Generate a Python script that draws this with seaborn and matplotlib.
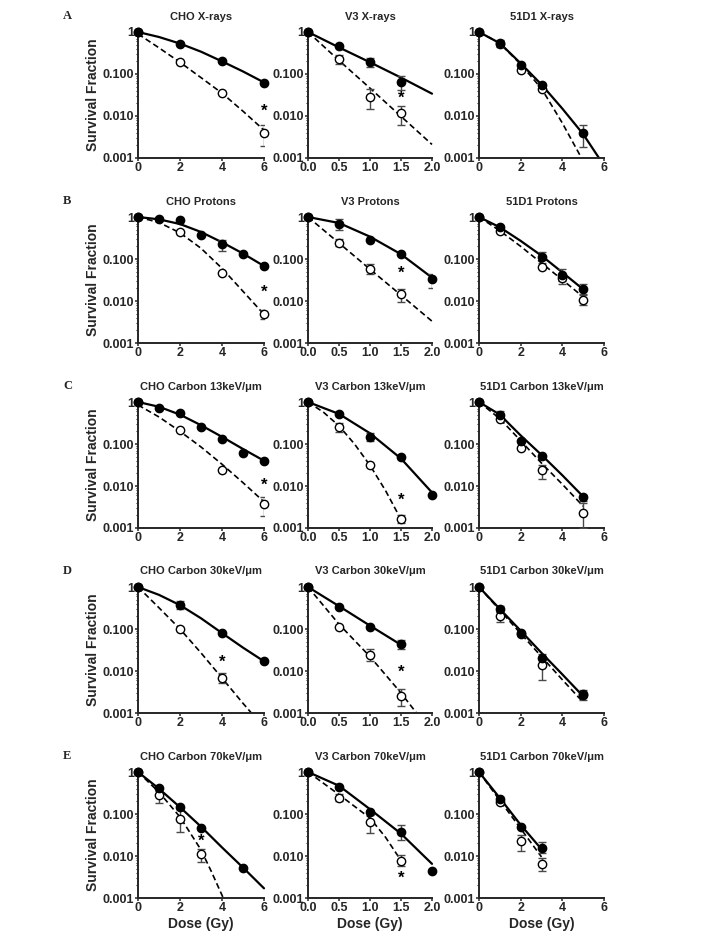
import numpy as np
import pandas as pd
import matplotlib
matplotlib.use('Agg')
import matplotlib.pyplot as plt
import seaborn as sns
from matplotlib.ticker import FixedLocator, NullFormatter, LogLocator

# ---------------- data ----------------
# A: X-rays
a1_fill_x = [0, 2, 4, 6]
a1_fill_y = [1, 0.53, 0.20, 0.062]
a1_fill_lo = [None, None, None, None]
a1_fill_hi = [None, None, None, None]
a1_open_x = [0, 2, 4, 6]
a1_open_y = [1, 0.196, 0.036, 0.0040]
a1_open_lo = [None, None, None, 0.0019]
a1_open_hi = [None, None, None, 0.0061]
a1_fit_x = [0, 1, 2, 3, 4, 5, 6]
a1_fit_y = [1, 0.76, 0.53, 0.34, 0.20, 0.115, 0.063]
a1_dash_x = [0, 1, 2, 3, 4, 5, 6]
a1_dash_y = [0.9, 0.42, 0.19, 0.082, 0.035, 0.013, 0.0046]
a1_star = (6, 0.013)

a2_fill_x = [0, 0.5, 1.0, 1.5]
a2_fill_y = [1, 0.47, 0.19, 0.066]
a2_fill_lo = [None, None, 0.15, 0.042]
a2_fill_hi = [None, None, 0.24, 0.09]
a2_open_x = [0, 0.5, 1.0, 1.5]
a2_open_y = [1, 0.23, 0.029, 0.0118]
a2_open_lo = [None, 0.17, 0.015, 0.0060]
a2_open_hi = [None, 0.29, 0.043, 0.017]
a2_fit_x = [0, 0.5, 1.0, 1.5, 2.0]
a2_fit_y = [1, 0.43, 0.19, 0.082, 0.034]
a2_dash_x = [0, 0.5, 1.0, 1.5, 2.0]
a2_dash_y = [1, 0.21, 0.046, 0.0098, 0.0021]
a2_star = (1.5, 0.027)

a3_fill_x = [0, 1, 2, 3, 5]
a3_fill_y = [1, 0.54, 0.165, 0.054, 0.0040]
a3_fill_lo = [None, 0.45, None, None, 0.0018]
a3_fill_hi = [None, 0.64, None, None, 0.0060]
a3_open_x = [0, 1, 2, 3]
a3_open_y = [1, 0.52, 0.125, 0.044]
a3_open_lo = [None, None, None, None]
a3_open_hi = [None, None, None, None]
a3_fit_x = [0, 1, 2, 3, 4, 5, 5.76]
a3_fit_y = [1, 0.54, 0.18, 0.056, 0.015, 0.0037, 0.001]
a3_dash_x = [0, 1, 2, 3, 4, 4.92]
a3_dash_y = [1, 0.54, 0.17, 0.045, 0.0068, 0.001]
a3_star = None

# B: Protons
b1_fill_x = [0, 1, 2, 3, 4, 5, 6]
b1_fill_y = [1, 0.91, 0.83, 0.37, 0.225, 0.132, 0.068]
b1_fill_lo = [None, None, None, None, 0.155, None, None]
b1_fill_hi = [None, None, None, None, 0.29, None, None]
b1_open_x = [0, 2, 4, 6]
b1_open_y = [1, 0.44, 0.047, 0.0050]
b1_open_lo = [None, None, None, 0.0038]
b1_open_hi = [None, None, None, 0.0062]
b1_fit_x = [0, 1, 2, 3, 4, 5, 6]
b1_fit_y = [1, 0.88, 0.68, 0.44, 0.25, 0.135, 0.068]
b1_dash_x = [0, 1, 2, 3, 4, 5, 6]
b1_dash_y = [1, 0.74, 0.42, 0.18, 0.06, 0.017, 0.0048]
b1_star = (6, 0.016)

b2_fill_x = [0, 0.5, 1.0, 1.5, 2.0]
b2_fill_y = [1, 0.69, 0.29, 0.13, 0.033]
b2_fill_lo = [None, 0.5, None, None, 0.02]
b2_fill_hi = [None, 0.9, None, None, 0.045]
b2_open_x = [0, 0.5, 1.0, 1.5]
b2_open_y = [1, 0.24, 0.059, 0.0145]
b2_open_lo = [None, 0.2, 0.045, 0.0095]
b2_open_hi = [None, 0.3, 0.077, 0.019]
b2_fit_x = [0, 0.5, 1.0, 1.5, 2.0]
b2_fit_y = [1, 0.72, 0.34, 0.13, 0.036]
b2_dash_x = [0, 0.5, 1.0, 1.5, 2.0]
b2_dash_y = [1, 0.24, 0.057, 0.0138, 0.0033]
b2_star = (1.5, 0.045)

b3_fill_x = [0, 1, 3, 4, 5]
b3_fill_y = [1, 0.58, 0.11, 0.042, 0.0196]
b3_fill_lo = [None, None, 0.08, 0.03, 0.015]
b3_fill_hi = [None, None, 0.15, 0.057, 0.026]
b3_open_x = [0, 1, 3, 4, 5]
b3_open_y = [1, 0.46, 0.064, 0.035, 0.0108]
b3_open_lo = [None, None, None, 0.026, 0.0082]
b3_open_hi = [None, None, None, 0.045, 0.0137]
b3_fit_x = [0, 1, 2, 3, 4, 5]
b3_fit_y = [1, 0.57, 0.27, 0.12, 0.048, 0.019]
b3_dash_x = [0, 1, 2, 3, 4, 5]
b3_dash_y = [1, 0.47, 0.2, 0.08, 0.032, 0.0125]
b3_star = None

# C: Carbon 13 keV/um
c1_fill_x = [0, 1, 2, 3, 4, 5, 6]
c1_fill_y = [1, 0.71, 0.56, 0.254, 0.129, 0.06, 0.04]
c1_fill_lo = [None] * 7
c1_fill_hi = [None] * 7
c1_open_x = [0, 2, 4, 6]
c1_open_y = [1, 0.22, 0.0235, 0.0037]
c1_open_lo = [None, None, None, 0.0019]
c1_open_hi = [None, None, None, 0.0054]
c1_fit_x = [0, 1, 2, 3, 4, 5, 6]
c1_fit_y = [1, 0.77, 0.5, 0.28, 0.148, 0.076, 0.04]
c1_dash_x = [0, 1, 2, 3, 4, 5, 6]
c1_dash_y = [0.85, 0.44, 0.2, 0.085, 0.033, 0.012, 0.0042]
c1_star = (6, 0.0102)

c2_fill_x = [0, 0.5, 1.0, 1.5, 2.0]
c2_fill_y = [1, 0.52, 0.15, 0.049, 0.006]
c2_fill_lo = [None, None, 0.115, None, None]
c2_fill_hi = [None, None, 0.18, None, None]
c2_open_x = [0, 0.5, 1.0, 1.5]
c2_open_y = [1, 0.254, 0.031, 0.0016]
c2_open_lo = [None, 0.19, None, 0.0013]
c2_open_hi = [None, 0.32, None, 0.002]
c2_fit_x = [0, 0.5, 1.0, 1.5, 2.0]
c2_fit_y = [1, 0.52, 0.18, 0.045, 0.007]
c2_dash_x = [0, 0.25, 0.5, 0.75, 1.0, 1.25, 1.5]
c2_dash_y = [1, 0.57, 0.27, 0.10, 0.031, 0.0078, 0.0016]
c2_star = (1.5, 0.0045)

c3_fill_x = [0, 1, 2, 3, 5]
c3_fill_y = [1, 0.5, 0.12, 0.051, 0.0054]
c3_fill_lo = [None, 0.42, None, None, 0.0045]
c3_fill_hi = [None, 0.6, None, None, 0.006]
c3_open_x = [0, 1, 2, 3, 5]
c3_open_y = [1, 0.4, 0.08, 0.0236, 0.0023]
c3_open_lo = [None, None, None, 0.015, 0.001]
c3_open_hi = [None, None, None, 0.032, 0.0039]
c3_fit_x = [0, 1, 2, 3, 4, 5]
c3_fit_y = [1, 0.5, 0.16, 0.055, 0.018, 0.0056]
c3_dash_x = [0, 1, 2, 3, 4, 5]
c3_dash_y = [1, 0.4, 0.12, 0.035, 0.011, 0.0033]
c3_star = None

# D: Carbon 30 keV/um
d1_fill_x = [0, 2, 4, 6]
d1_fill_y = [1, 0.37, 0.08, 0.017]
d1_fill_lo = [None, 0.3, None, None]
d1_fill_hi = [None, 0.46, None, None]
d1_open_x = [0, 2, 4]
d1_open_y = [1, 0.1, 0.0068]
d1_open_lo = [None, None, 0.0052]
d1_open_hi = [None, None, 0.0088]
d1_fit_x = [0, 1, 2, 3, 4, 5, 6]
d1_fit_y = [1, 0.65, 0.37, 0.18, 0.08, 0.036, 0.017]
d1_dash_x = [0, 1, 2, 3, 4, 5, 5.4]
d1_dash_y = [1, 0.32, 0.1, 0.027, 0.0068, 0.0017, 0.001]
d1_star = (4, 0.016)

d2_fill_x = [0, 0.5, 1.0, 1.5]
d2_fill_y = [1, 0.33, 0.11, 0.043]
d2_fill_lo = [None, None, None, 0.033]
d2_fill_hi = [None, None, None, 0.056]
d2_open_x = [0, 0.5, 1.0, 1.5]
d2_open_y = [1, 0.11, 0.024, 0.0025]
d2_open_lo = [None, None, 0.017, 0.0015]
d2_open_hi = [None, None, 0.033, 0.0037]
d2_fit_x = [0, 0.5, 1.0, 1.5]
d2_fit_y = [1, 0.35, 0.12, 0.042]
d2_dash_x = [0, 0.5, 1.0, 1.5, 1.75]
d2_dash_y = [1, 0.13, 0.022, 0.003, 0.001]
d2_star = (1.5, 0.0095)

d3_fill_x = [0, 1, 2, 3, 5]
d3_fill_y = [1, 0.3, 0.08, 0.02, 0.0027]
d3_fill_lo = [None, 0.25, None, 0.015, 0.002]
d3_fill_hi = [None, 0.36, None, 0.025, 0.0035]
d3_open_x = [0, 1, 2, 3, 5]
d3_open_y = [1, 0.2, 0.075, 0.014, 0.0028]
d3_open_lo = [None, 0.15, None, 0.006, None]
d3_open_hi = [None, 0.25, None, 0.021, None]
d3_fit_x = [0, 1, 2, 3, 4, 5]
d3_fit_y = [1, 0.3, 0.091, 0.027, 0.0083, 0.0025]
d3_dash_x = [0, 1, 2, 3, 4, 5]
d3_dash_y = [1, 0.28, 0.078, 0.022, 0.0062, 0.0018]
d3_star = None

# E: Carbon 70 keV/um
e1_fill_x = [0, 1, 2, 3, 5]
e1_fill_y = [1, 0.42, 0.145, 0.047, 0.0053]
e1_fill_lo = [None] * 5
e1_fill_hi = [None] * 5
e1_open_x = [0, 1, 2, 3]
e1_open_y = [1, 0.29, 0.078, 0.011]
e1_open_lo = [None, 0.18, 0.038, 0.0071]
e1_open_hi = [None, 0.36, 0.13, 0.0145]
e1_fit_x = [0, 1, 2, 3, 4, 5, 6]
e1_fit_y = [1, 0.4, 0.145, 0.05, 0.016, 0.0053, 0.0017]
e1_dash_x = [0, 1, 2, 3, 3.5, 4.06]
e1_dash_y = [1, 0.33, 0.085, 0.014, 0.0042, 0.001]
e1_star = (3, 0.023)

e2_fill_x = [0, 0.5, 1.0, 1.5, 2.0]
e2_fill_y = [1, 0.43, 0.113, 0.038, 0.0043]
e2_fill_lo = [None, None, None, 0.024, None]
e2_fill_hi = [None, None, None, 0.054, None]
e2_open_x = [0, 0.5, 1.0, 1.5]
e2_open_y = [1, 0.246, 0.065, 0.0078]
e2_open_lo = [None, 0.2, 0.036, 0.0058]
e2_open_hi = [None, 0.3, 0.094, 0.0103]
e2_fit_x = [0, 0.5, 1.0, 1.5, 2.0]
e2_fit_y = [1, 0.47, 0.13, 0.034, 0.0065]
e2_dash_x = [0, 0.5, 1.0, 1.25, 1.5]
e2_dash_y = [1, 0.29, 0.08, 0.028, 0.0078]
e2_star = (1.5, 0.003)

e3_fill_x = [0, 1, 2, 3]
e3_fill_y = [1, 0.225, 0.048, 0.0156]
e3_fill_lo = [None, None, None, 0.0115]
e3_fill_hi = [None, None, None, 0.021]
e3_open_x = [0, 1, 2, 3]
e3_open_y = [1, 0.19, 0.023, 0.0066]
e3_open_lo = [None, None, 0.013, 0.0043]
e3_open_hi = [None, None, 0.031, 0.0092]
e3_fit_x = [0, 1, 2, 3]
e3_fit_y = [1, 0.24, 0.055, 0.0145]
e3_dash_x = [0, 1, 2, 3]
e3_dash_y = [1, 0.21, 0.045, 0.0095]
e3_star = None

titles = [
    ['CHO X-rays', 'V3 X-rays', '51D1 X-rays'],
    ['CHO Protons', 'V3 Protons', '51D1 Protons'],
    ['CHO Carbon 13keV/\u03bcm', 'V3 Carbon 13keV/\u03bcm', '51D1 Carbon 13keV/\u03bcm'],
    ['CHO Carbon 30keV/\u03bcm', 'V3 Carbon 30keV/\u03bcm', '51D1 Carbon 30keV/\u03bcm'],
    ['CHO Carbon 70keV/\u03bcm', 'V3 Carbon 70keV/\u03bcm', '51D1 Carbon 70keV/\u03bcm'],
]
row_letters = ['A', 'B', 'C', 'D', 'E']
y_ticks = [0.001, 0.01, 0.1, 1]
y_ticklabels = ['0.001', '0.010', '0.100', '1']
x_ticks_cols = [[0, 2, 4, 6], [0.0, 0.5, 1.0, 1.5, 2.0], [0, 2, 4, 6]]
x_ticklabels_cols = [['0', '2', '4', '6'], ['0.0', '0.5', '1.0', '1.5', '2.0'], ['0', '2', '4', '6']]
x_max_cols = [6, 2, 6]

g = globals()

# ---------------- style ----------------
sns.set_style('ticks')
plt.rcParams['font.family'] = ['Liberation Sans', 'DejaVu Sans']
plt.rcParams['font.weight'] = 'bold'
plt.rcParams['axes.linewidth'] = 1.4

W, H = 708, 938
fig = plt.figure(figsize=(W / 100, H / 100), dpi=100)

col_left = [138, 308, 479]
col_width = [126, 124, 125]
row_top = [32, 217, 402, 587, 772]
ax_h = 126

err_color = '#4a4a4a'


def draw_panel(ax, key, col):
    fx, fy = g[key + '_fill_x'], g[key + '_fill_y']
    flo, fhi = g[key + '_fill_lo'], g[key + '_fill_hi']
    ox, oy = g[key + '_open_x'], g[key + '_open_y']
    olo, ohi = g[key + '_open_lo'], g[key + '_open_hi']

    # fitted curves
    sns.lineplot(x=g[key + '_fit_x'], y=g[key + '_fit_y'], ax=ax, color='black',
                 lw=1.6, sort=False, clip_on=False, zorder=2)
    sns.lineplot(x=g[key + '_dash_x'], y=g[key + '_dash_y'], ax=ax, color='black',
                 lw=1.2, ls=(0, (3.5, 2)), sort=False, clip_on=False, zorder=2)

    # error bars
    for xs, ys, lo, hi in ((ox, oy, olo, ohi), (fx, fy, flo, fhi)):
        for x, y, l, h in zip(xs, ys, lo, hi):
            if l is None:
                continue
            ax.errorbar([x], [y], yerr=[[y - l], [h - y]], fmt='none', ecolor=err_color,
                        elinewidth=1.0, capsize=3, capthick=1.0, zorder=3)

    # points
    sns.scatterplot(x=ox, y=oy, ax=ax, color='white', edgecolor='black', s=36,
                    linewidth=1.0, zorder=4, clip_on=False)
    sns.scatterplot(x=fx, y=fy, ax=ax, color='black', edgecolor='black', s=36,
                    linewidth=1.0, zorder=5, clip_on=False)

    star = g[key + '_star']
    if star is not None:
        ax.text(star[0], star[1], '*', ha='center', va='center', fontsize=12,
                fontweight='bold', color='black', zorder=6)

    ax.set_yscale('log')
    ax.set_ylim(0.001, 1)
    ax.set_xlim(0, x_max_cols[col])
    ax.yaxis.set_major_locator(FixedLocator(y_ticks))
    ax.set_yticklabels(y_ticklabels)
    ax.yaxis.set_minor_locator(LogLocator(base=10, subs=np.arange(2, 10)))
    ax.yaxis.set_minor_formatter(NullFormatter())
    ax.set_xticks(x_ticks_cols[col])
    ax.set_xticklabels(x_ticklabels_cols[col])
    ax.tick_params(axis='both', which='major', length=2.5, width=1.1, labelsize=9, pad=0.5)
    ax.tick_params(axis='y', which='minor', length=1.5, width=0.8)
    for lab in ax.get_xticklabels() + ax.get_yticklabels():
        lab.set_fontweight('bold')
    sns.despine(ax=ax)


for r in range(5):
    for c in range(3):
        key = 'abcde'[r] + str(c + 1)
        left = col_left[c] / W
        bottom = 1 - (row_top[r] + ax_h) / H
        ax = fig.add_axes([left, bottom, col_width[c] / W, ax_h / H])
        draw_panel(ax, key, c)
        ax.set_title(titles[r][c], fontsize=8, fontweight='bold', pad=9)
        ax.set_xlabel('')
        ax.set_ylabel('')
        if c == 0:
            ax.set_ylabel('Survival Fraction', fontsize=10, fontweight='bold', labelpad=2)
        if r == 4:
            ax.set_xlabel('Dose (Gy)', fontsize=10, fontweight='bold', labelpad=2)
    fig.text(63 / W, 1 - (row_top[r] - 16) / H, row_letters[r], fontsize=9,
             fontweight='bold', family=['Liberation Serif', 'DejaVu Serif'],
             ha='left', va='center')

fig.savefig('out.png', dpi=100)
